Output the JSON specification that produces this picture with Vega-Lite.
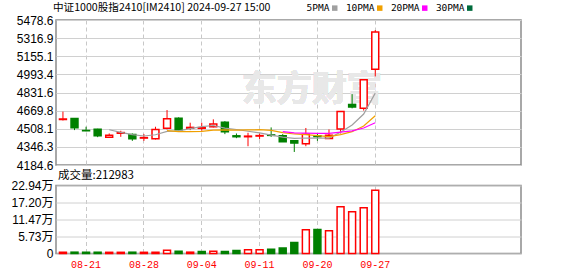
{
  "$schema": "https://vega.github.io/schema/vega-lite/v6.json",
  "background": "white",
  "padding": {"left": 10, "top": 2, "right": 5, "bottom": 2},
  "bounds": "flush",
  "spacing": 20.5,
  "config": {
    "view": {"stroke": "#8c8c8c", "strokeWidth": 1.5},
    "axis": {"ticks": false, "domain": false, "title": null, "labelFont": "Liberation Sans", "labelFontSize": 12, "labelColor": "#000000", "gridColor": "#d0d0d0", "gridWidth": 1, "labelPadding": 3, "labelOverlap": false},
    "axisX": {"gridDash": [4, 3], "gridColor": "#c8c8c8", "labelFont": "Liberation Mono", "labelFontSize": 10, "labelColor": "#ff0000", "labelPadding": 6, "bandPosition": 0.5, "labelAngle": 0}
  },
  "datasets": {
    "k": [
      {"d":"08-19","o":4590,"h":4661,"l":4582,"c":4594,"v":4000,"vd":"up"},
      {"d":"08-20","o":4600,"h":4601,"l":4496,"c":4517,"v":4500,"vd":"down"},
      {"d":"08-21","o":4492,"h":4526,"l":4486,"c":4490,"v":4300,"vd":"down"},
      {"d":"08-22","o":4504,"h":4508,"l":4433,"c":4445,"v":4300,"vd":"down"},
      {"d":"08-23","o":4433,"h":4466,"l":4430,"c":4451,"v":4000,"vd":"up","5PMA":4499.4},
      {"d":"08-26","o":4468,"h":4490,"l":4436,"c":4474,"v":4000,"vd":"up","5PMA":4475.4},
      {"d":"08-27","o":4457,"h":4466,"l":4400,"c":4418,"v":4400,"vd":"down","5PMA":4455.6},
      {"d":"08-28","o":4425,"h":4460,"l":4400,"c":4429,"v":4000,"vd":"up","5PMA":4443.4},
      {"d":"08-29","o":4418,"h":4526,"l":4412,"c":4502,"v":4200,"vd":"up","5PMA":4454.8},
      {"d":"08-30","o":4513,"h":4675,"l":4502,"c":4598,"v":11000,"vd":"up","5PMA":4484.2,"10PMA":4491.8},
      {"d":"09-02","o":4601,"h":4610,"l":4495,"c":4499,"v":7500,"vd":"down","5PMA":4489.2,"10PMA":4482.3},
      {"d":"09-03","o":4513,"h":4562,"l":4496,"c":4520,"v":4500,"vd":"up","5PMA":4509.6,"10PMA":4482.6},
      {"d":"09-04","o":4512,"h":4562,"l":4490,"c":4518,"v":7000,"vd":"down","5PMA":4527.4,"10PMA":4485.4},
      {"d":"09-05","o":4526,"h":4592,"l":4520,"c":4550,"v":7500,"vd":"up","5PMA":4537,"10PMA":4495.9},
      {"d":"09-06","o":4565,"h":4576,"l":4460,"c":4481,"v":7000,"vd":"down","5PMA":4513.6,"10PMA":4498.9},
      {"d":"09-09","o":4445,"h":4466,"l":4424,"c":4437,"v":10500,"vd":"down","5PMA":4501.2,"10PMA":4495.2},
      {"d":"09-10","o":4437,"h":4472,"l":4352,"c":4442,"v":12500,"vd":"up","5PMA":4485.6,"10PMA":4497.6},
      {"d":"09-11","o":4443,"h":4466,"l":4415,"c":4447,"v":12500,"vd":"up","5PMA":4471.4,"10PMA":4499.4},
      {"d":"09-12","o":4453,"h":4520,"l":4436,"c":4449,"v":14500,"vd":"down","5PMA":4451.2,"10PMA":4494.1},
      {"d":"09-13","o":4445,"h":4460,"l":4391,"c":4391,"v":18500,"vd":"down","5PMA":4433.2,"10PMA":4473.4,"20PMA":4482.6},
      {"d":"09-18","o":4400,"h":4402,"l":4301,"c":4380,"v":37000,"vd":"down","5PMA":4421.8,"10PMA":4461.5,"20PMA":4471.9},
      {"d":"09-19","o":4375,"h":4515,"l":4352,"c":4460,"v":80000,"vd":"up","5PMA":4425.4,"10PMA":4455.5,"20PMA":4469.1},
      {"d":"09-20","o":4445,"h":4466,"l":4400,"c":4438,"v":81000,"vd":"down","5PMA":4423.6,"10PMA":4447.5,"20PMA":4466.5},
      {"d":"09-23","o":4422,"h":4502,"l":4420,"c":4450,"v":76600,"vd":"up","5PMA":4423.8,"10PMA":4437.5,"20PMA":4466.7},
      {"d":"09-24","o":4505,"h":4661,"l":4466,"c":4661,"v":157600,"vd":"up","5PMA":4477.8,"10PMA":4455.5,"20PMA":4477.2},
      {"d":"09-25","o":4725,"h":4817,"l":4690,"c":4702,"v":140700,"vd":"up","5PMA":4542.2,"10PMA":4482,"20PMA":4488.6},
      {"d":"09-26","o":4690,"h":4950,"l":4670,"c":4945,"v":154200,"vd":"up","5PMA":4639.2,"10PMA":4532.3,"20PMA":4515},
      {"d":"09-27","o":5040,"h":5389,"l":4975,"c":5371,"v":212983,"vd":"up","5PMA":4825.8,"10PMA":4624.7,"20PMA":4562.1}
    ]
  },
  "vconcat": [
    {
      "width": 465,
      "height": 145,
      "data": {"name": "k"},
      "title": {"text": "中证1000股指2410[IM2410] 2024-09-27 15:00", "anchor": "start", "frame": "group", "font": "Noto Sans CJK SC", "fontSize": 10.6, "fontWeight": "normal", "color": "#000000", "offset": 0, "dx": -3},
      "encoding": {
        "x": {
          "field": "d", "type": "ordinal",
          "scale": {"domain": ["08-19","08-20","08-21","08-22","08-23","08-26","08-27","08-28","08-29","08-30","09-02","09-03","09-04","09-05","09-06","09-09","09-10","09-11","09-12","09-13","09-18","09-19","09-20","09-23","09-24","09-25","09-26","09-27","09-30","10-08","10-09","10-10","10-11","10-14","10-15","10-16","10-17","10-18","10-21","10-22"], "paddingInner": 0.4, "paddingOuter": 0.3},
          "axis": {"values": ["08-21","08-28","09-04","09-11","09-20","09-27"], "labels": false, "grid": true}
        }
      },
      "layer": [
        {
          "mark": {"type": "text", "text": "东方财富", "font": "Noto Sans CJK SC", "fontSize": 35, "fontWeight": "bold", "color": "#e8e8e8", "dx": 6},
          "encoding": {
            "x": {"datum": "09-19", "type": "ordinal"},
            "y": {"datum": 4855, "type": "quantitative", "scale": {"domain": [4184.6, 5478.6], "zero": false, "nice": false},
                  "axis": {"values": [4184.6, 4346.3, 4508.1, 4669.8, 4831.6, 4993.4, 5155.1, 5316.9, 5478.6], "format": ".1f", "labelFlush": false, "labelOverlap": false, "grid": true}}
          }
        },
        {
          "mark": {"type": "rule", "strokeWidth": 1},
          "encoding": {
            "y": {"field": "l", "type": "quantitative", "scale": {"domain": [4184.6, 5478.6], "zero": false, "nice": false},
                  "axis": {"values": [4184.6, 4346.3, 4508.1, 4669.8, 4831.6, 4993.4, 5155.1, 5316.9, 5478.6], "format": ".1f", "labelFlush": false, "labelOverlap": false, "grid": true}},
            "y2": {"field": "h"},
            "color": {"condition": {"test": "datum.c >= datum.o", "value": "#ff0000"}, "value": "#008000"}
          }
        },
        {
          "mark": {"type": "bar", "strokeWidth": 1.5},
          "encoding": {
            "y": {"field": "o", "type": "quantitative", "scale": {"domain": [4184.6, 5478.6], "zero": false, "nice": false},
                  "axis": {"values": [4184.6, 4346.3, 4508.1, 4669.8, 4831.6, 4993.4, 5155.1, 5316.9, 5478.6], "format": ".1f", "labelFlush": false, "labelOverlap": false, "grid": true}},
            "y2": {"field": "c"},
            "fill": {"condition": {"test": "datum.c >= datum.o", "value": "#ffffff"}, "value": "#008000"},
            "stroke": {"condition": {"test": "datum.c >= datum.o", "value": "#ff0000"}, "value": "#008000"}
          }
        },
        {
          "transform": [{"fold": ["5PMA", "10PMA", "20PMA"], "as": ["series", "ma"]}, {"filter": "isValid(datum.ma)"}],
          "mark": {"type": "line", "strokeWidth": 1.2},
          "encoding": {
            "y": {"field": "ma", "type": "quantitative", "scale": {"domain": [4184.6, 5478.6], "zero": false, "nice": false},
                  "axis": {"values": [4184.6, 4346.3, 4508.1, 4669.8, 4831.6, 4993.4, 5155.1, 5316.9, 5478.6], "format": ".1f", "labelFlush": false, "labelOverlap": false, "grid": true}},
            "color": {
              "field": "series", "type": "nominal",
              "scale": {"domain": ["5PMA", "10PMA", "20PMA", "30PMA"], "range": ["#a0a0a0", "#f0a000", "#ff00ff", "#006b3c"]},
              "legend": {
                "orient": "none", "legendX": 274, "legendY": -17, "direction": "horizontal", "title": null,
                "padding": 0, "symbolType": "square", "symbolSize": 30, "symbolStrokeWidth": 0,
                "labelFont": "DejaVu Sans Mono", "labelFontSize": 9.5, "labelColor": "#000000",
                "labelAlign": "right", "labelOffset": -10, "columnPadding": 7,
                "encode": {"symbols": {"update": {"fill": {"scale": "color", "field": "value"}, "strokeWidth": {"value": 0}}}}
              }
            }
          }
        }
      ]
    },
    {
      "width": 465,
      "height": 68,
      "data": {"name": "k"},
      "title": {"text": "成交量:212983", "anchor": "start", "frame": "group", "font": "Noto Sans CJK SC", "fontSize": 11.5, "fontWeight": "normal", "color": "#000000", "offset": -2, "dx": 2},
      "mark": {"type": "bar", "strokeWidth": 1.5},
      "encoding": {
        "x": {
          "field": "d", "type": "ordinal",
          "scale": {"domain": ["08-19","08-20","08-21","08-22","08-23","08-26","08-27","08-28","08-29","08-30","09-02","09-03","09-04","09-05","09-06","09-09","09-10","09-11","09-12","09-13","09-18","09-19","09-20","09-23","09-24","09-25","09-26","09-27","09-30","10-08","10-09","10-10","10-11","10-14","10-15","10-16","10-17","10-18","10-21","10-22"], "paddingInner": 0.4, "paddingOuter": 0.3},
          "axis": {"values": ["08-21","08-28","09-04","09-11","09-20","09-27"], "grid": true}
        },
        "y": {
          "field": "v", "type": "quantitative",
          "scale": {"domain": [0, 229400], "nice": false},
          "axis": {"values": [0, 57300, 114700, 172000, 229400], "labelExpr": "datum.value == 0 ? '0' : format(datum.value / 10000, '.2f') + '万'", "labelFlush": false, "labelFont": "Liberation Sans, Noto Sans CJK SC", "grid": true}
        },
        "fill": {"condition": {"test": "datum.vd == 'up'", "value": "#ffffff"}, "value": "#008000"},
        "stroke": {"condition": {"test": "datum.vd == 'up'", "value": "#ff0000"}, "value": "#008000"}
      }
    }
  ]
}
